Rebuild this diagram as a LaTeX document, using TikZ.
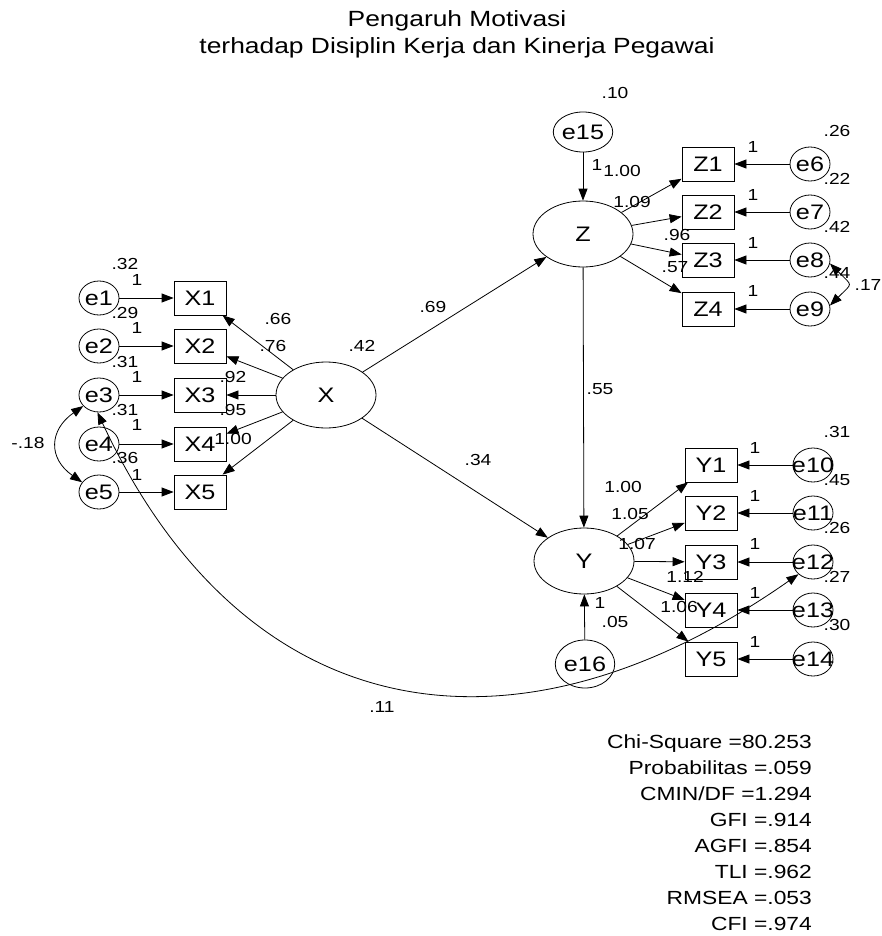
\documentclass[tikz,border=0pt]{standalone}
\usepackage{fontspec}
\setmainfont[FakeStretch=1.2]{Liberation Sans}
\usetikzlibrary{shapes.geometric, arrows.meta, positioning}

\begin{document}
\begin{tikzpicture}[
  x=1pt, y=-1pt,
  % latent variables
  latent/.style={ellipse, draw, line width=0.8pt, minimum width=100pt, minimum height=66pt,
                 inner sep=0pt, font=\fontsize{21}{24}\selectfont},
  % observed indicators
  obs/.style={rectangle, draw, line width=0.8pt, minimum width=52pt, minimum height=34pt,
              inner sep=0pt, font=\fontsize{21}{24}\selectfont},
  % error terms, name written in the middle
  err/.style={ellipse, draw, line width=0.8pt, minimum width=40pt, minimum height=34pt,
              inner sep=0pt, label={[font=\fontsize{21}{24}\selectfont, inner sep=0pt]center:#1}},
  % estimates
  est/.style={font=\fontsize{16}{18}\selectfont, inner sep=0pt},
  % arrows
  arr/.style={-{Triangle[length=12pt, width=9pt]}, line width=0.8pt},
  covar/.style={{Triangle[length=12pt, width=9pt]}-{Triangle[length=12pt, width=9pt]}, line width=0.8pt},
]
\fill[white] (0,0) rectangle (877,936);

% ── TITLE ────────────────────────────────────────
\node[font=\fontsize{22}{27}\selectfont, align=center, anchor=north, inner sep=0pt] (title) at (457,10)
  {Pengaruh Motivasi\\terhadap Disiplin Kerja dan Kinerja Pegawai};

% ── LATENT VARIABLES ─────────────────────────────
\node[latent] (X) at (326,395) {X};
\node[latent] (Z) at (583,234) {Z};
\node[latent] (Y) at (584,561) {Y};
\node[latent, minimum width=58pt, minimum height=40pt] (e15) at (583,132) {e15};
\node[latent, minimum width=58pt, minimum height=48pt] (e16) at (585,664) {e16};

% ── INDICATORS X ─────────────────────────────────
\foreach \i/\y in {1/298, 2/346, 3/395, 4/444, 5/492} {
  \node[obs] (X\i) at (200,\y) {X\i};
  \node[err=e\i] (e\i) at (99,\y) {};
  \draw[arr] (e\i) -- (X\i);
  \draw[arr] (X) -- (X\i);
}

% ── INDICATORS Z ─────────────────────────────────
\foreach \i/\e/\y in {1/6/164, 2/7/212, 3/8/260, 4/9/309} {
  \node[obs] (Z\i) at (708,\y) {Z\i};
  \node[err=e\e] (e\e) at (810,\y) {};
  \draw[arr] (e\e) -- (Z\i);
  \draw[arr] (Z) -- (Z\i);
}

% ── INDICATORS Y ─────────────────────────────────
\foreach \i/\e/\y in {1/10/465, 2/11/513, 3/12/562, 4/13/610, 5/14/659} {
  \node[obs] (Y\i) at (711,\y) {Y\i};
  \node[err=e\e] (e\e) at (813,\y) {};
  \draw[arr] (e\e) -- (Y\i);
  \draw[arr] (Y) -- (Y\i);
}

% ── STRUCTURAL PATHS ─────────────────────────────
\foreach \a/\b in {e15/Z, e16/Y, X/Z, X/Y, Z/Y} {
  \draw[arr] (\a) -- (\b);
}

% ── COVARIANCES ──────────────────────────────────
\draw[covar] (e3.215) to[out=215, in=145, looseness=1.4] (e5.150);
\draw[covar] (e8.-10) to[out=-45, in=45, looseness=2] (e9.10);
\draw[covar] (e3.265) to[out=-65, in=215, looseness=1.24] (e12.220);

% ── ESTIMATES ────────────────────────────────────
\foreach \t/\x/\y [count=\n] in {.32/125/264, 1/137/280, .29/125/313, 1/137/328,
    .31/125/362, 1/137/377, .31/125/410, 1/137/425, .36/125/458, 1/137/475,
    .66/278/319, .76/273/346, .92/233/377, .95/233/410, 1.00/233/439, .42/362/346,
    -.18/28/443, .69/433/307, .34/478/460, .55/600/389, .11/382/707} {
  \node[est] (lx\n) at (\x,\y) {\t};
}
\foreach \t/\x/\y [count=\n] in {.10/615/93, 1/597/165, 1.00/622/171, 1.09/632/202,
    .96/677/235, .57/675/267, 1/753/147, 1/753/195, 1/753/243, 1/753/291,
    .26/837/131, .22/837/179, .42/837/227, .44/837/273, .17/868/285} {
  \node[est] (lz\n) at (\x,\y) {\t};
}
\foreach \t/\x/\y [count=\n] in {1.00/623/487, 1.05/630/514, 1.07/637/544, 1.12/685/577,
    1.06/679/607, 1/600/603, .05/615/622, 1/755/448, 1/755/496, 1/755/544,
    1/755/593, 1/755/642, .31/837/432, .45/837/480, .26/837/528, .27/837/577, .30/837/625} {
  \node[est] (ly\n) at (\x,\y) {\t};
}

% ── FIT INDICES ──────────────────────────────────
\node[font=\fontsize{19}{26}\selectfont, align=right, anchor=north east, inner sep=0pt] (fit) at (812,735)
  {Chi-Square =80.253\\Probabilitas =.059\\CMIN/DF =1.294\\GFI =.914\\
   AGFI =.854\\TLI =.962\\RMSEA =.053\\CFI =.974};

\useasboundingbox (0,0) rectangle (877,936);
\end{tikzpicture}
\end{document}
